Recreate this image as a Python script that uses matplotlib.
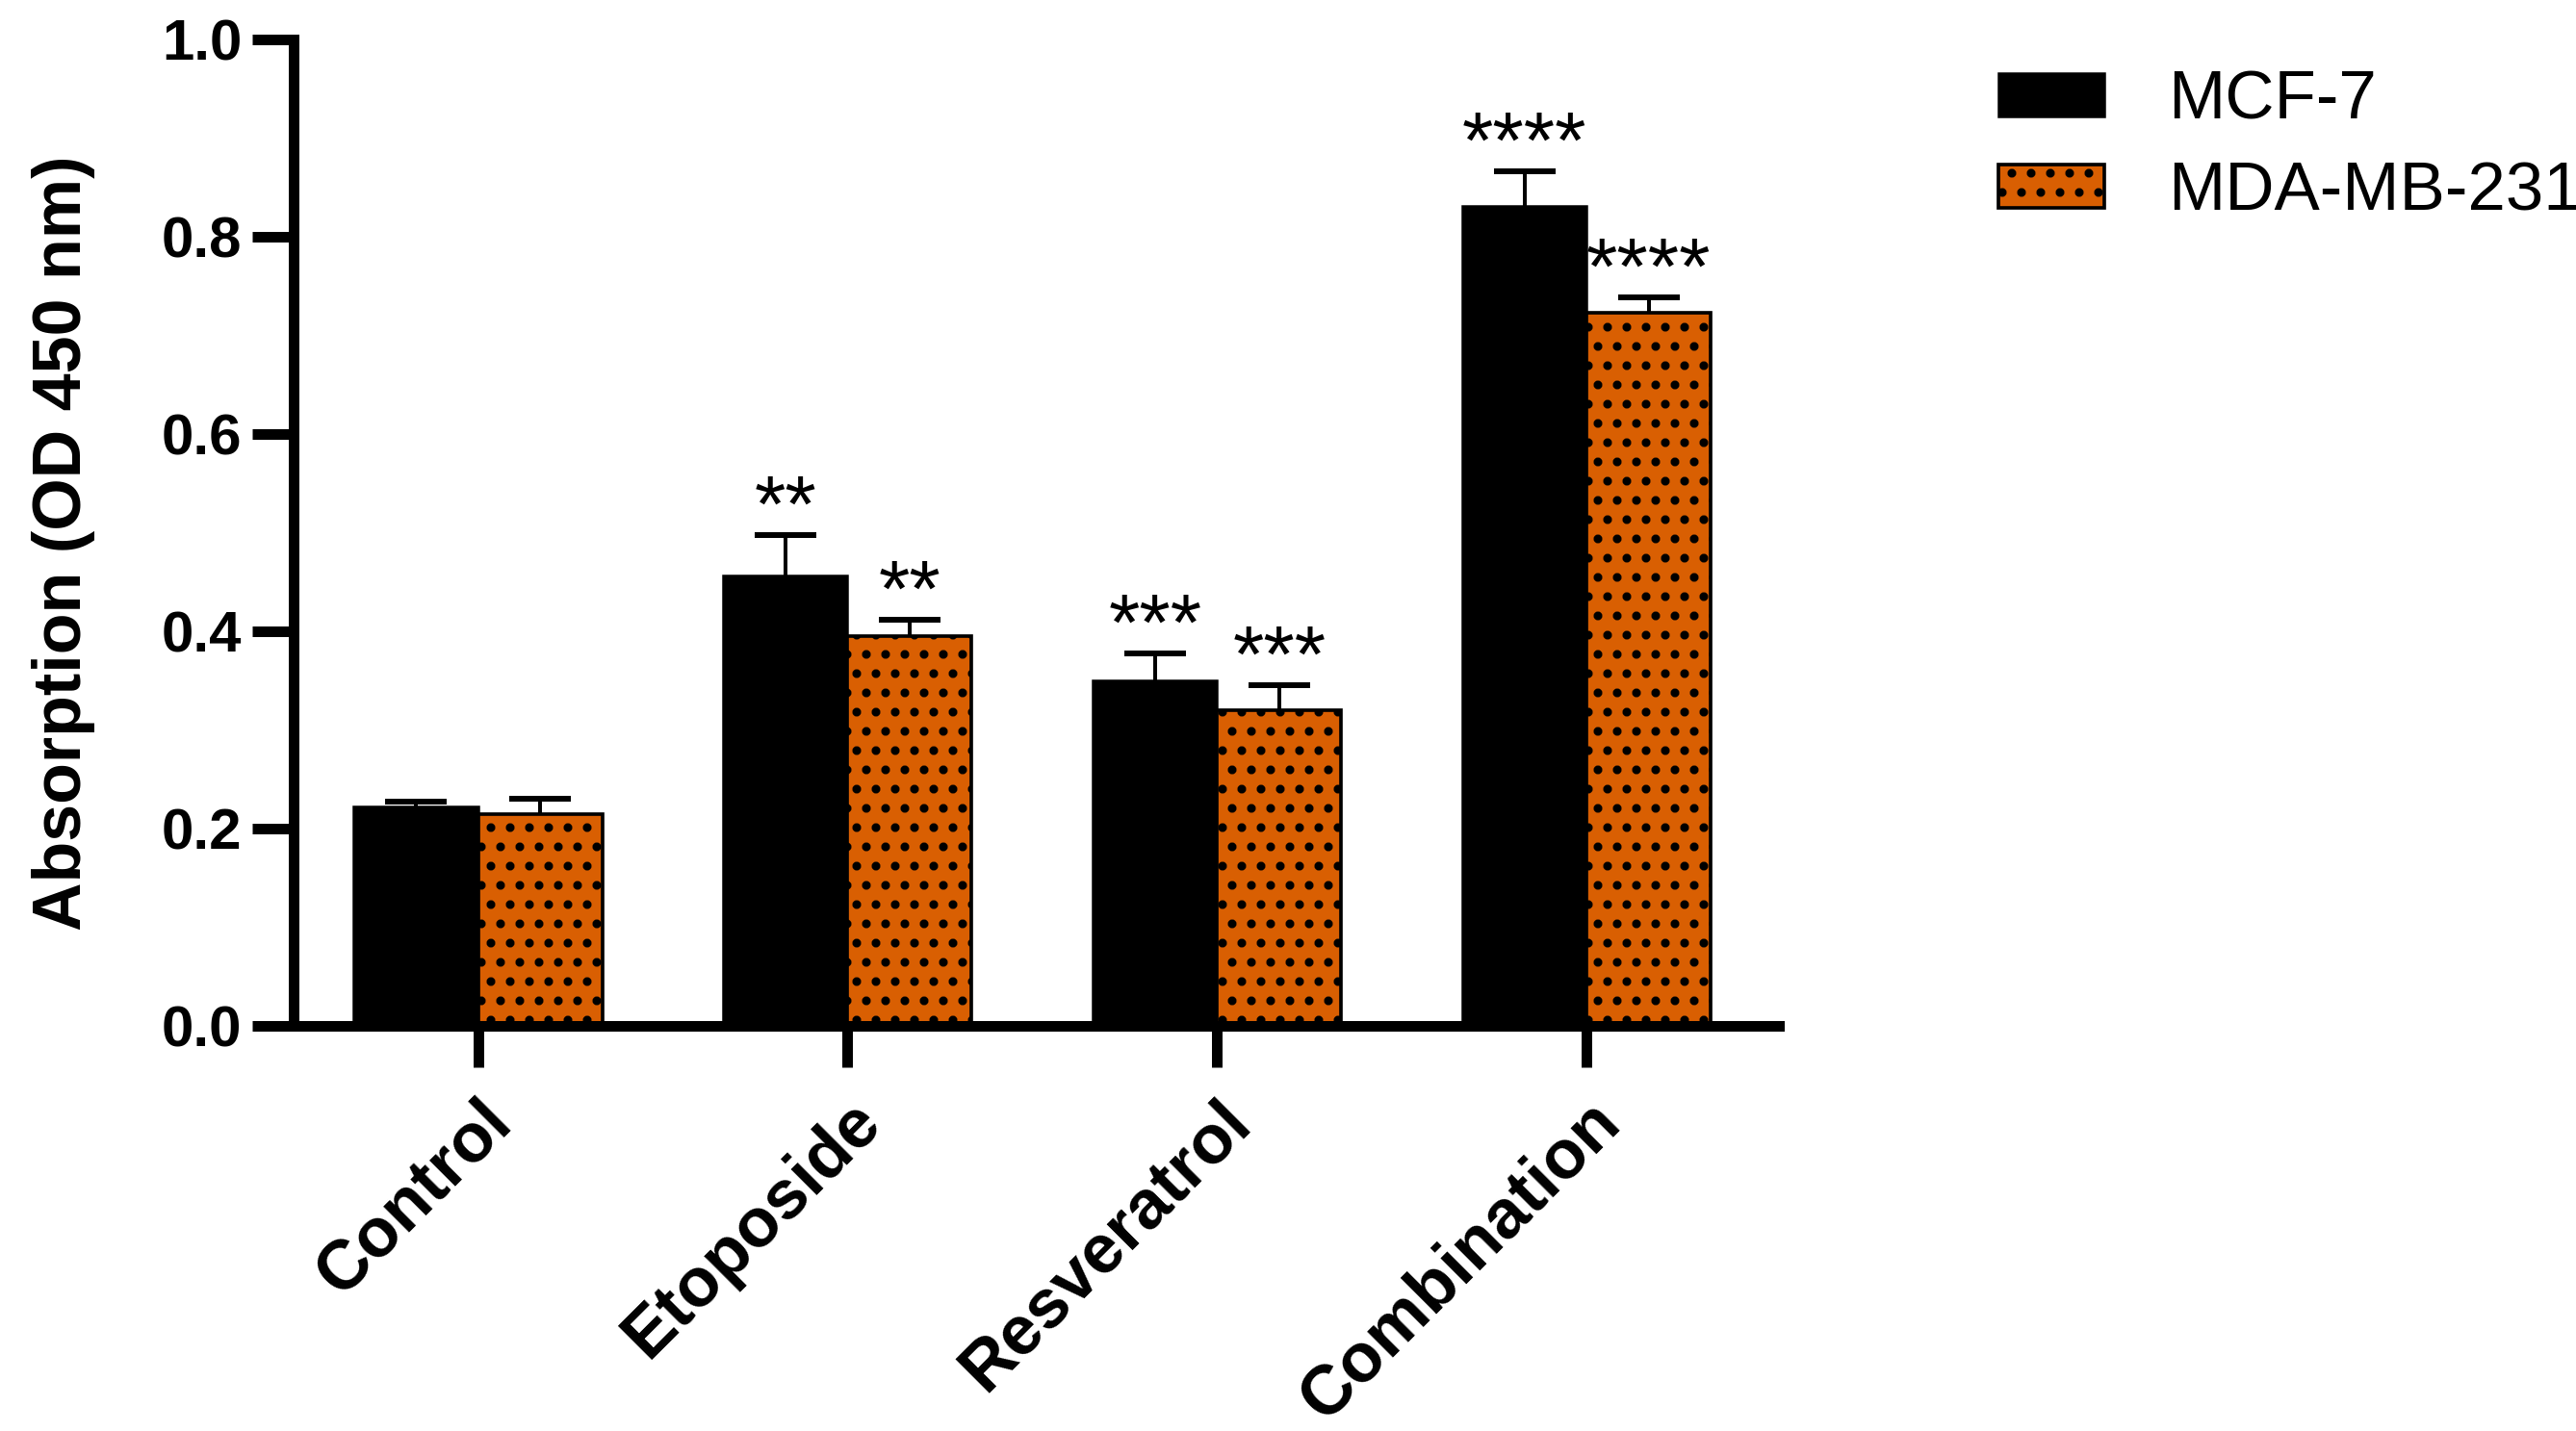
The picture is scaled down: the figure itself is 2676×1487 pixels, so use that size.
import numpy as np
import matplotlib
matplotlib.use('Agg')
import matplotlib.pyplot as plt
import matplotlib.transforms as mtransforms

# data
groups = ['Control', 'Etoposide', 'Resveratrol', 'Combination']
mcf7_mean = [0.223, 0.457, 0.351, 0.832]
mcf7_err = [0.005, 0.041, 0.027, 0.035]
mda_mean = [0.215, 0.396, 0.320, 0.723]
mda_err = [0.016, 0.016, 0.026, 0.016]
mcf7_stars = ['', '**', '***', '****']
mda_stars = ['', '**', '***', '****']
series_names = ['MCF-7', 'MDA-MB-231']
yticks = [0.0, 0.2, 0.4, 0.6, 0.8, 1.0]

plt.rcParams['font.family'] = ['Liberation Sans', 'DejaVu Sans']
plt.rcParams['hatch.linewidth'] = 3.0

fig = plt.figure(figsize=(22.3, 12.3917), dpi=120)
ax = fig.add_axes([0.1138, 0.2828, 0.5768, 0.6893])

x = np.arange(len(groups))
w = 0.336
orange = '#D95F02'

ax.bar(x - w / 2, mcf7_mean, w, color='black', edgecolor='black',
       linewidth=1.5, zorder=2, label=series_names[0])
ax.bar(x + w / 2, mda_mean, w, color=orange, edgecolor='black',
       linewidth=2.2, hatch='.', zorder=2, label=series_names[1])

ax.errorbar(x - w / 2, mcf7_mean, yerr=mcf7_err, fmt='none', ecolor='black',
            elinewidth=2.4, capsize=19, capthick=3.6, zorder=1)
ax.errorbar(x + w / 2, mda_mean, yerr=mda_err, fmt='none', ecolor='black',
            elinewidth=2.4, capsize=19, capthick=3.6, zorder=1)

# significance stars
star_off = 0.003
for i in range(len(groups)):
    if mcf7_stars[i]:
        ax.text(x[i] - w / 2, mcf7_mean[i] + mcf7_err[i] + star_off,
                mcf7_stars[i], ha='center', va='baseline', fontsize=50)
    if mda_stars[i]:
        ax.text(x[i] + w / 2, mda_mean[i] + mda_err[i] + star_off,
                mda_stars[i], ha='center', va='baseline', fontsize=50)

ax.set_xlim(-0.5, 3.52)
ax.set_ylim(0, 1.0)
ax.set_yticks(yticks)
ax.set_yticklabels([f'{t:.1f}' for t in yticks], fontsize=36, fontweight='bold')
ax.set_xticks(x)
ax.set_xticklabels(groups, fontsize=43, fontweight='bold', rotation=45,
                   ha='right', va='top', rotation_mode='anchor')
shift = mtransforms.ScaledTranslation(-8 / 120, 0, fig.dpi_scale_trans)
for lab in ax.get_xticklabels():
    lab.set_transform(lab.get_transform() + shift)

for s in ['top', 'right']:
    ax.spines[s].set_visible(False)
for s in ['left', 'bottom']:
    ax.spines[s].set_linewidth(6.6)
ax.tick_params(axis='both', width=6.6, length=26)
ax.tick_params(axis='y', pad=6)
ax.tick_params(axis='x', pad=13)

ax.set_ylabel('Absorption (OD 450 nm)', fontsize=42, fontweight='bold')
ax.yaxis.set_label_coords(-0.133, 0.49)

fig.legend(loc='upper left', bbox_to_anchor=(2076 / 2676, 1 - 72 / 1487),
           frameon=False, fontsize=42.5, borderaxespad=0, borderpad=0,
           handlelength=1.55, handleheight=0.6, handletextpad=0.93,
           labelspacing=0.42)

fig.savefig('out.png', dpi=120)
